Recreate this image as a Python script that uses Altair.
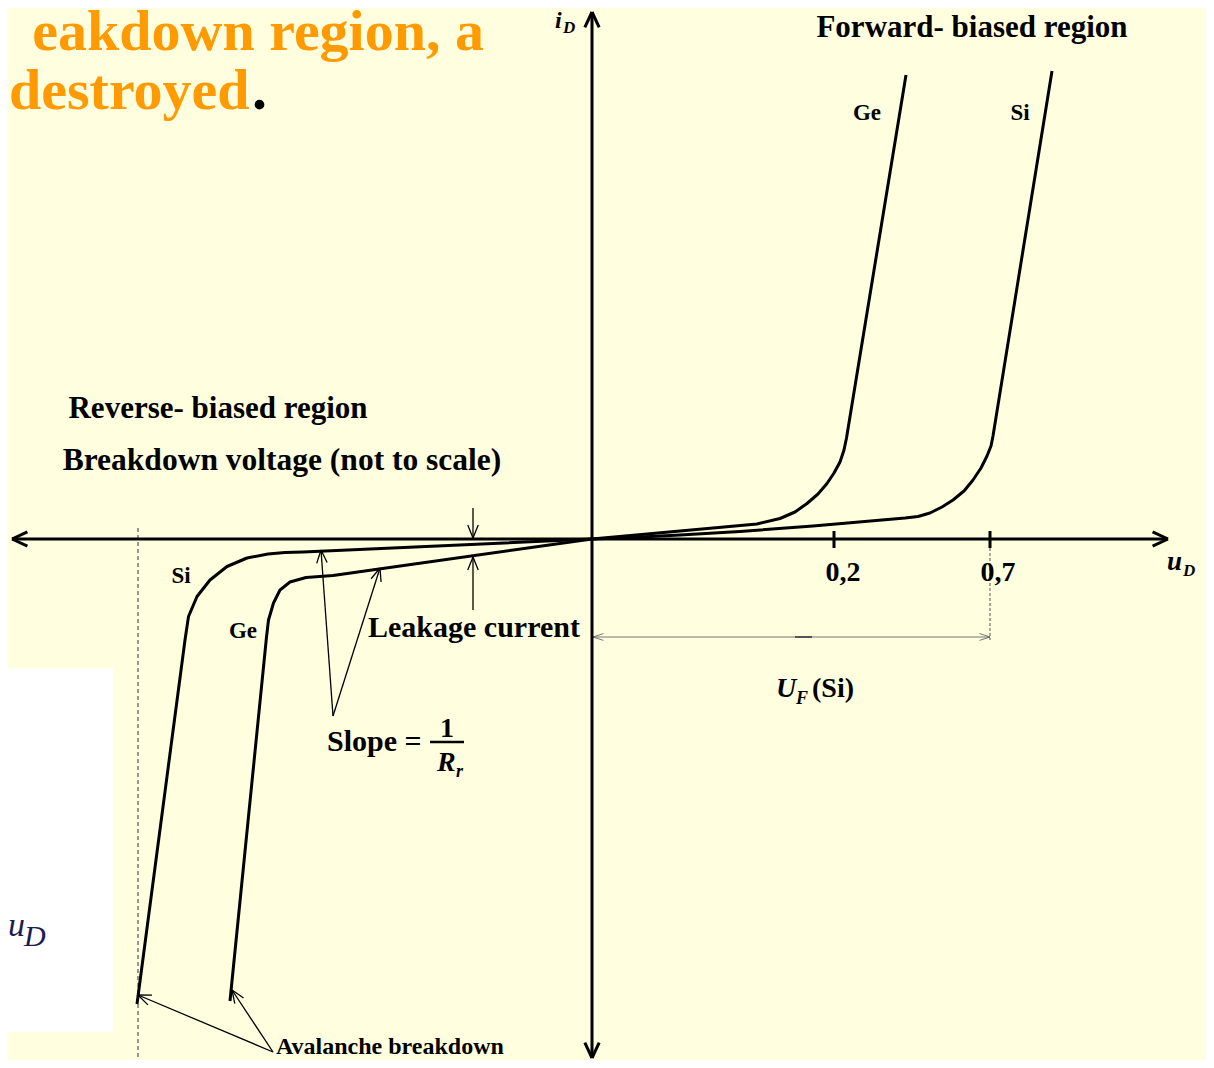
import math
import altair as alt
import pandas as pd

BG = "#FFFFE0"
FONT = "Liberation Serif"

# ---------------- curves (diagram coordinates, u to the right, i downward in page sense)
ge_fwd_x = [592, 757, 780, 795, 807, 818, 827, 834, 840, 844, 846.5, 906]
ge_fwd_y = [539, 524, 518.5, 512, 503.5, 494, 483.5, 473, 462, 450, 438, 75]
si_fwd_x = [592, 630, 680, 740, 813, 905, 918, 930, 942, 953, 964, 973, 981, 987, 991, 993, 1052]
si_fwd_y = [539, 537.5, 535, 531.5, 526, 518, 516.5, 513, 507, 500, 491, 480, 468, 456, 446, 436, 71]
si_rev_x = [592, 303, 285, 268, 247, 227, 210, 197, 188.5, 185, 137]
si_rev_y = [539, 552, 552.5, 554, 558, 566.5, 580, 596.5, 616.5, 640, 1004]
ge_rev_x = [592, 333, 306, 290, 280, 273.5, 268.5, 266.5, 230]
ge_rev_y = [539, 575.5, 577.5, 582, 590, 603, 620, 637, 1001]

curves = []
for name, xs, ys in [("Ge fwd", ge_fwd_x, ge_fwd_y), ("Si fwd", si_fwd_x, si_fwd_y),
                     ("Si rev", si_rev_x, si_rev_y), ("Ge rev", ge_rev_x, ge_rev_y)]:
    for i, (a, b) in enumerate(zip(xs, ys)):
        curves.append({"curve": name, "i": i, "x": a, "y": b})
curves = pd.DataFrame(curves)

# ---------------- axes, ticks, helper lines
axis_lines = [(12, 539, 1168, 539), (592, 12, 592, 1058)]
tick_lines = [(834, 531, 834, 548), (990, 531, 990, 548)]
fraction_bar = [(430, 742, 464, 742)]
axis_arrow_tips = [((12, 539), (100, 539)), ((1168, 539), (1000, 539)),
                   ((592, 12), (592, 100)), ((592, 1058), (592, 900))]

thin_arrows = [((473, 508), (473, 538)), ((473, 610), (473, 557)),
               ((333, 716), (321, 550)), ((333, 716), (380, 568)),
               ((273, 1052), (138, 995)), ((273, 1052), (232, 990))]
uf_arrow = ((593, 637), (990, 637))
uf_mark = [(795, 637, 812, 637)]
dashed_lines = [(138, 528, 138, 1068), (990, 548, 990, 640)]


def chevron(tip, frm, length, half_deg):
    dx, dy = frm[0] - tip[0], frm[1] - tip[1]
    n = math.hypot(dx, dy)
    ux, uy = dx / n, dy / n
    out = []
    for s in (1, -1):
        a = math.radians(half_deg) * s
        rx = ux * math.cos(a) - uy * math.sin(a)
        ry = ux * math.sin(a) + uy * math.cos(a)
        out.append((tip[0], tip[1], tip[0] + rx * length, tip[1] + ry * length))
    return out


thick = list(axis_lines) + list(tick_lines)
for tip, frm in axis_arrow_tips:
    thick += chevron(tip, frm, 17, 25)
thin = []
for frm, tip in thin_arrows:
    thin.append((frm[0], frm[1], tip[0], tip[1]))
    thin += chevron(tip, frm, 14, 22)
gray = [(uf_arrow[0][0], uf_arrow[0][1], uf_arrow[1][0], uf_arrow[1][1])]
gray += chevron(uf_arrow[0], uf_arrow[1], 11, 18)
gray += chevron(uf_arrow[1], uf_arrow[0], 11, 18)


def seg_df(segs):
    return pd.DataFrame(segs, columns=["x", "y", "x2", "y2"])


XS = alt.Scale(domain=[8, 1206], nice=False, zero=False)
YS = alt.Scale(domain=[8, 1060], nice=False, zero=False, reverse=True)


def rules(segs, width, color, dash=None):
    kw = dict(strokeWidth=width, color=color, strokeCap="butt")
    if dash:
        kw["strokeDash"] = dash
    return alt.Chart(seg_df(segs)).mark_rule(**kw).encode(
        x=alt.X("x:Q", scale=XS, axis=None), y=alt.Y("y:Q", scale=YS, axis=None),
        x2="x2:Q", y2="y2:Q")


# ---------------- texts
labels_center = [
    ("Forward- biased region", 972, 37, 31),
    ("Ge", 867, 120, 23), ("Si", 1020, 120, 23),
    ("Reverse- biased region", 218, 418, 31),
    ("Breakdown voltage (not to scale)", 282, 470, 31.5),
    ("Si", 181, 583, 23), ("Ge", 243, 638, 23),
    ("Leakage current", 474, 637, 30),
    ("0,2", 843, 581, 28), ("0,7", 998, 581, 28),
    ("1", 447, 737, 28),
]
labels_left = [
    ("Slope =", 327, 751, 30),
    ("(Si)", 812, 697, 28),
    ("Avalanche breakdown", 276, 1054, 24),
]
labels_italic = [
    ("i", 555, 28, 24), ("D", 563, 33, 17),
    ("u", 1167, 570, 27), ("D", 1183, 576, 17),
    ("U", 776, 697, 28), ("F", 796, 704, 18),
    ("R", 437, 771, 28), ("r", 456, 777, 18),
]
title_right = [("eakdown region, a", 484, 50)]
title_left = [("destroyed", 9, 109)]
title_dot = [(".", 252, 109)]
box_text = [("u", 8, 936, 34), ("D", 24, 946, 30)]
white_box = [(0, 668, 113, 1032)]


def text_layer(rows, align, style="normal", weight="bold", color="black", size=None):
    df = pd.DataFrame(rows, columns=["t", "x", "y", "s"][: len(rows[0])])
    if "s" not in df:
        df["s"] = size
    return alt.Chart(df).mark_text(
        align=align, baseline="alphabetic", font=FONT, fontWeight=weight,
        fontStyle=style, color=color).encode(
        x=alt.X("x:Q", scale=XS, axis=None), y=alt.Y("y:Q", scale=YS, axis=None),
        text="t:N", size=alt.Size("s:Q", scale=None, legend=None))


box = alt.Chart(seg_df(white_box)).mark_rect(color="white").encode(
    x=alt.X("x:Q", scale=XS, axis=None), y=alt.Y("y:Q", scale=YS, axis=None),
    x2="x2:Q", y2="y2:Q")

lines = alt.Chart(curves).mark_line(strokeWidth=3, color="black", strokeJoin="round").encode(
    x=alt.X("x:Q", scale=XS, axis=None), y=alt.Y("y:Q", scale=YS, axis=None),
    detail="curve:N", order="i:Q")

chart = alt.layer(
    box,
    text_layer(box_text, "left", style="italic", weight="normal", color="#1c1c50"),
    rules(dashed_lines[:1], 1.5, "#777777", [4, 3]),
    rules(dashed_lines[1:], 1, "#555555", [3, 2]),
    rules(gray, 0.8, "#555555"),
    rules(uf_mark, 2, "#555555"),
    rules(thin, 1.3, "black"),
    rules(thick, 3, "black"),
    rules(fraction_bar, 2.5, "black"),
    lines,
    text_layer(labels_center, "center"),
    text_layer(labels_left, "left"),
    text_layer(labels_italic, "left", style="italic"),
    text_layer(title_right, "right", color="#FF9A00", size=58),
    text_layer(title_left, "left", color="#FF9A00", size=58),
    text_layer(title_dot, "left", size=60),
).properties(
    width=1198, height=1052,
    autosize=alt.AutoSizeParams(type="none"),
    padding=0, background=BG,
).configure_view(stroke=None)

chart.save("out.html", embed_options={"renderer": "svg", "actions": False})
